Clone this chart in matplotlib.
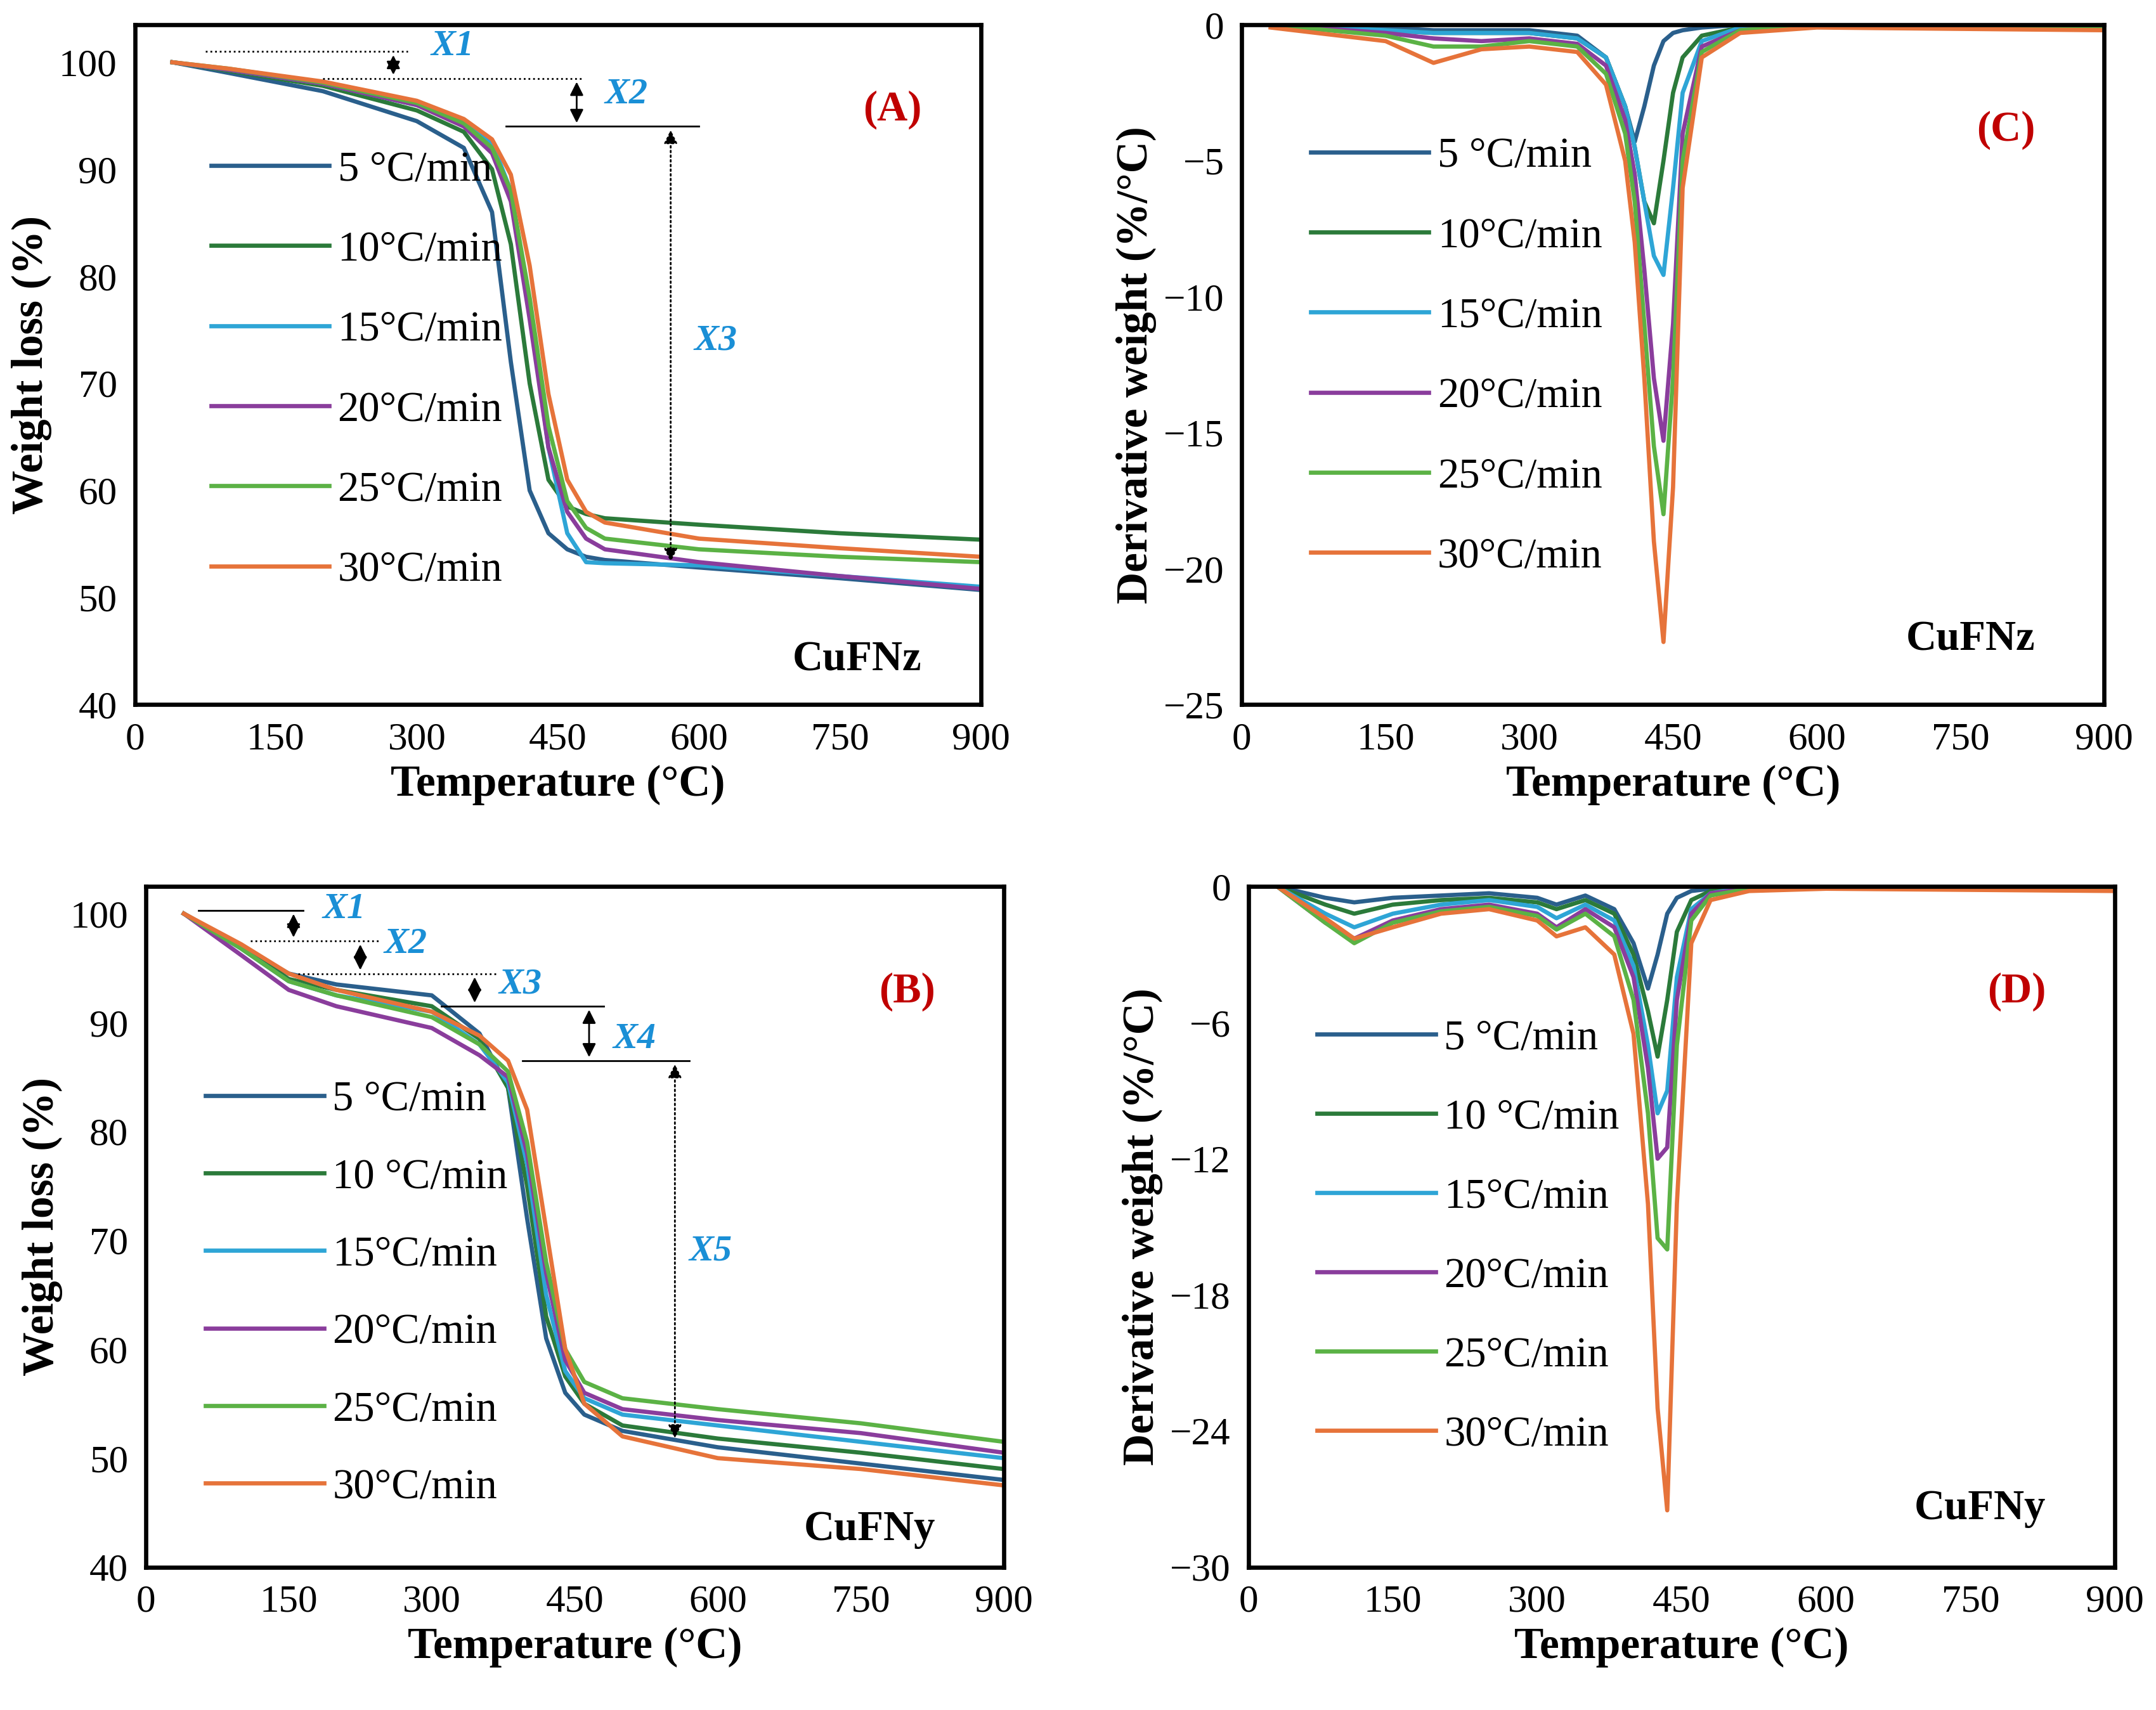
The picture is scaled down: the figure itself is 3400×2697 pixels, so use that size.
import matplotlib
matplotlib.use("Agg")
import matplotlib.pyplot as plt

plt.rcParams.update({"font.family": ["Liberation Serif", "DejaVu Serif"], "font.size": 20})

COLORS = ["#2a5f8c", "#2b7a3a", "#2ea5d6", "#8a3d9c", "#5bb245", "#e6733a"]

# --- data -------------------------------------------------------------------
temp_a = [40, 100, 200, 300, 350, 380, 400, 420, 440, 460, 480, 500, 600, 750, 900]
wt_a = [
    [100, 99, 97.3, 94.5, 92, 86, 72, 60, 56, 54.5, 53.8, 53.5, 52.8, 51.8, 50.7],
    [100, 99.2, 97.8, 95.5, 93.5, 90, 83, 70, 61, 58.5, 57.8, 57.4, 56.8, 56, 55.4],
    [100, 99.3, 98, 96, 94.5, 92.5, 88, 77, 64, 56, 53.3, 53.2, 53, 52, 51],
    [100, 99.3, 98, 96, 94, 91.5, 87, 76, 64, 58, 55.5, 54.5, 53.3, 52, 50.8],
    [100, 99.4, 98.1, 96.2, 94.3, 92, 88, 78, 66, 59, 56.5, 55.5, 54.5, 53.8, 53.3],
    [100, 99.4, 98.2, 96.4, 94.7, 92.8, 89.5, 81, 69, 61, 58, 57, 55.5, 54.6, 53.8],
]
labels_a = ["5 °C/min", "10°C/min", "15°C/min", "20°C/min", "25°C/min", "30°C/min"]

temp_b = [40, 100, 150, 200, 300, 350, 380, 400, 420, 440, 460, 500, 600, 750, 900]
wt_b = [
    [100, 97, 94.5, 93.5, 92.5, 89, 84, 72, 61, 56, 54, 52.5, 51, 49.5, 48],
    [100, 97, 94, 93, 91.5, 88.5, 84, 75, 63, 57.5, 55, 53, 51.8, 50.5, 49],
    [100, 96.8, 93.8, 92.5, 91, 88, 84.5, 77, 65, 58, 55.5, 54, 53, 51.5, 50],
    [100, 96.2, 93, 91.5, 89.5, 87, 85, 78, 67, 59, 56, 54.5, 53.5, 52.3, 50.5],
    [100, 96.8, 93.8, 92.5, 90.5, 88, 85.5, 79, 68, 60, 57, 55.5, 54.5, 53.2, 51.5],
    [100, 97.2, 94.5, 93, 91, 88.8, 86.5, 82, 71, 60, 55, 52, 50, 49, 47.5],
]
labels_b = ["5 °C/min", "10 °C/min", "15°C/min", "20°C/min", "25°C/min", "30°C/min"]

temp_c = [30, 150, 200, 250, 300, 350, 380, 400, 410, 420, 430, 440, 450, 460, 480, 520, 600, 900]
dtg_c = [
    [0, -0.1, -0.2, -0.2, -0.2, -0.4, -1.2, -3, -4.3, -3, -1.5, -0.6, -0.3, -0.2, -0.1, 0, 0, -0.1],
    [0, -0.2, -0.3, -0.3, -0.3, -0.5, -1.2, -3, -4.5, -6.5, -7.3, -5, -2.5, -1.2, -0.4, -0.1, 0, -0.1],
    [0, -0.2, -0.3, -0.3, -0.3, -0.5, -1.2, -3, -4.5, -6.5, -8.5, -9.2, -6, -2.5, -0.6, -0.1, 0, -0.1],
    [0, -0.3, -0.5, -0.6, -0.5, -0.7, -1.5, -3.5, -5.5, -9, -13, -15.3, -11, -4, -0.8, -0.2, 0, -0.1],
    [0, -0.4, -0.8, -0.8, -0.6, -0.8, -1.8, -4, -6.5, -11, -15.5, -18, -13, -5, -1, -0.2, 0, -0.1],
    [-0.1, -0.6, -1.4, -0.9, -0.8, -1, -2.2, -5, -8, -13, -19, -22.7, -17, -6, -1.2, -0.3, -0.1, -0.2],
]
labels_c = ["5 °C/min", "10°C/min", "15°C/min", "20°C/min", "25°C/min", "30°C/min"]

temp_d = [30, 80, 110, 150, 200, 250, 300, 320, 350, 380, 400, 415, 425, 435, 445, 460, 480, 520, 600, 900]
dtg_d = [
    [0, -0.5, -0.7, -0.5, -0.4, -0.3, -0.5, -0.8, -0.4, -1, -2.5, -4.5, -3, -1.2, -0.5, -0.2, -0.1, 0, 0, -0.1],
    [0, -0.8, -1.2, -0.8, -0.6, -0.5, -0.7, -1, -0.6, -1.2, -3, -5.5, -7.5, -5, -2, -0.6, -0.2, 0, 0, -0.1],
    [0, -1.2, -1.8, -1.2, -0.8, -0.6, -0.9, -1.4, -0.8, -1.5, -3.5, -7, -10, -9, -4, -1, -0.3, 0, 0, -0.1],
    [0, -1.6, -2.3, -1.5, -1, -0.8, -1.2, -1.8, -1, -1.8, -4, -8, -12, -11.5, -5, -1.2, -0.3, -0.1, 0, -0.1],
    [0, -1.6, -2.5, -1.6, -1.1, -0.9, -1.3, -1.9, -1.2, -2.2, -5, -10, -15.5, -16, -7, -1.5, -0.4, -0.1, 0, -0.1],
    [0, -1.4, -2.3, -1.8, -1.2, -1, -1.5, -2.2, -1.8, -3, -6.5, -14, -23, -27.5, -14, -2.5, -0.6, -0.2, -0.1, -0.2],
]
labels_d = ["5 °C/min", "10 °C/min", "15°C/min", "20°C/min", "25°C/min", "30°C/min"]

fig = plt.figure(figsize=(17, 13.485), dpi=200)
axA = fig.add_axes([0.0625, 0.588, 0.3925, 0.3975])
axC = fig.add_axes([0.576, 0.588, 0.400, 0.3975])
axB = fig.add_axes([0.0676, 0.0836, 0.398, 0.398])
axD = fig.add_axes([0.579, 0.0836, 0.402, 0.398])

BLUE = "#1a8fd6"
TFS, LFS, GFS, AFS = 22, 25, 24, 24


def style(ax, ylabel, ylim, yticks):
    ax.set_xlim(0, 900)
    ax.set_xticks(range(0, 901, 150))
    ax.set_ylim(*ylim)
    ax.set_yticks(yticks)
    ax.tick_params(length=0, labelsize=TFS, pad=10)
    for s in ax.spines.values():
        s.set_linewidth(2.4)
    ax.set_xlabel("Temperature (°C)", fontsize=LFS, fontweight="bold")
    ax.set_ylabel(ylabel, fontsize=LFS, fontweight="bold")


def draw(ax, t, series, labels, anchor, spacing):
    for y, c, lab in zip(series, COLORS, labels):
        ax.plot(t, y, color=c, lw=2.4, label=lab)
    ax.legend(loc="upper left", bbox_to_anchor=anchor, frameon=False, fontsize=GFS,
              handlelength=2.8, labelspacing=spacing, handletextpad=0.2, borderaxespad=0)


def hline(ax, x0, x1, y, ls):
    ax.plot([x0, x1], [y, y], color="black", lw=1.0, ls=ls)


def darrow(ax, x, y0, y1, ls="-"):
    ax.annotate("", xy=(x, y1), xytext=(x, y0),
                arrowprops=dict(arrowstyle="<|-|>", color="black", lw=1.0, ls=ls, mutation_scale=16))


def xlab(ax, x, y, s):
    ax.text(x, y, s, color=BLUE, fontsize=21, fontweight="bold", style="italic", va="center")


def tag(ax, x, y, s, color="black"):
    ax.text(x, y, s, transform=ax.transAxes, color=color, fontsize=AFS, fontweight="bold", ha="right")


# --- A ----------------------------------------------------------------------
draw(axA, temp_a, wt_a, labels_a, (0.07, 0.84), 0.98)
style(axA, "Weight loss (%)", (40, 103.5), range(40, 101, 10))
hline(axA, 75, 290, 101, ":")
darrow(axA, 275, 101, 98.5)
hline(axA, 200, 475, 98.5, ":")
darrow(axA, 470, 98.5, 94)
hline(axA, 395, 600, 94, "-")
darrow(axA, 570, 94, 53, ":")
xlab(axA, 315, 101.5, "X1")
xlab(axA, 500, 97.0, "X2")
xlab(axA, 595, 74, "X3")
tag(axA, 0.93, 0.86, "(A)", "#c00000")
tag(axA, 0.93, 0.05, "CuFNz")

# --- C ----------------------------------------------------------------------
draw(axC, temp_c, dtg_c, labels_c, (0.06, 0.86), 0.98)
style(axC, "Derivative weight (%/°C)", (-25, 0), range(-25, 1, 5))
tag(axC, 0.92, 0.83, "(C)", "#c00000")
tag(axC, 0.92, 0.08, "CuFNz")

# --- B ----------------------------------------------------------------------
draw(axB, temp_b, wt_b, labels_b, (0.05, 0.74), 0.92)
style(axB, "Weight loss (%)", (40, 102.5), range(40, 101, 10))
hline(axB, 55, 165, 100.3, "-")
darrow(axB, 155, 100.3, 97.5)
hline(axB, 110, 245, 97.5, ":")
darrow(axB, 225, 97.5, 94.5)
hline(axB, 160, 370, 94.5, ":")
darrow(axB, 345, 94.5, 91.5)
hline(axB, 310, 480, 91.5, "-")
darrow(axB, 465, 91.5, 86.5)
hline(axB, 395, 570, 86.5, "-")
darrow(axB, 555, 86.5, 51.5, ":")
xlab(axB, 185, 100.4, "X1")
xlab(axB, 250, 97.2, "X2")
xlab(axB, 370, 93.5, "X3")
xlab(axB, 490, 88.5, "X4")
xlab(axB, 570, 69, "X5")
tag(axB, 0.92, 0.83, "(B)", "#c00000")
tag(axB, 0.92, 0.04, "CuFNy")

# --- D ----------------------------------------------------------------------
draw(axD, temp_d, dtg_d, labels_d, (0.06, 0.83), 0.96)
style(axD, "Derivative weight (%/°C)", (-30, 0), range(-30, 1, 6))
tag(axD, 0.92, 0.83, "(D)", "#c00000")
tag(axD, 0.92, 0.07, "CuFNy")

fig.savefig("out.png", dpi=200)
